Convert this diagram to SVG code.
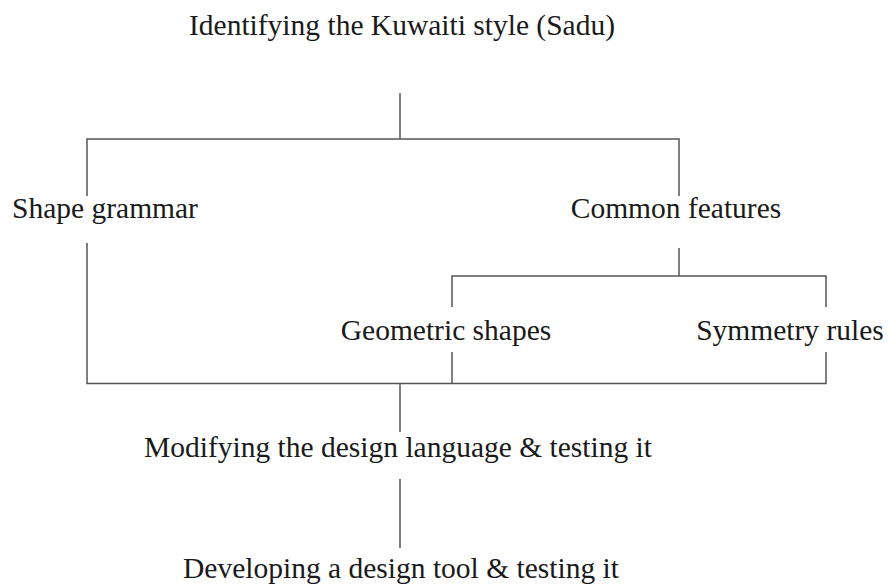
<svg xmlns="http://www.w3.org/2000/svg" width="891" height="587" viewBox="0 0 891 587">
  <style>
    .lbl { font-family: "Liberation Serif", "Times New Roman", serif; font-size: 29.5px; fill: #1a1a1a; text-anchor: middle; }
    .wire { fill: none; stroke: #555; stroke-width: 1.5; }
  </style>
  <rect width="891" height="587" fill="#fff"/>
  <g id="connectors">
    <path class="wire" d="M400 93 V139 M87 196 V139 H679 V196"/>
    <path class="wire" d="M87 243 V383.5 H826 V352 M826 307 V276 H452 V307 M452 352 V383.5 M679 248 V276"/>
    <path class="wire" d="M400 383.5 V432 M400 479 V548"/>
  </g>
  <g id="node-identify"><text class="lbl" x="402" y="35">Identifying the Kuwaiti style (Sadu)</text></g>
  <g id="node-shape-grammar"><text class="lbl" x="12" y="218" style="text-anchor:start">Shape grammar</text></g>
  <g id="node-common-features"><text class="lbl" x="676" y="218">Common features</text></g>
  <g id="node-geometric-shapes"><text class="lbl" x="446" y="340">Geometric shapes</text></g>
  <g id="node-symmetry-rules"><text class="lbl" x="790" y="340">Symmetry rules</text></g>
  <g id="node-modifying"><text class="lbl" x="398" y="457">Modifying the design language &amp; testing it</text></g>
  <g id="node-developing"><text class="lbl" x="401" y="578">Developing a design tool &amp; testing it</text></g>
</svg>
